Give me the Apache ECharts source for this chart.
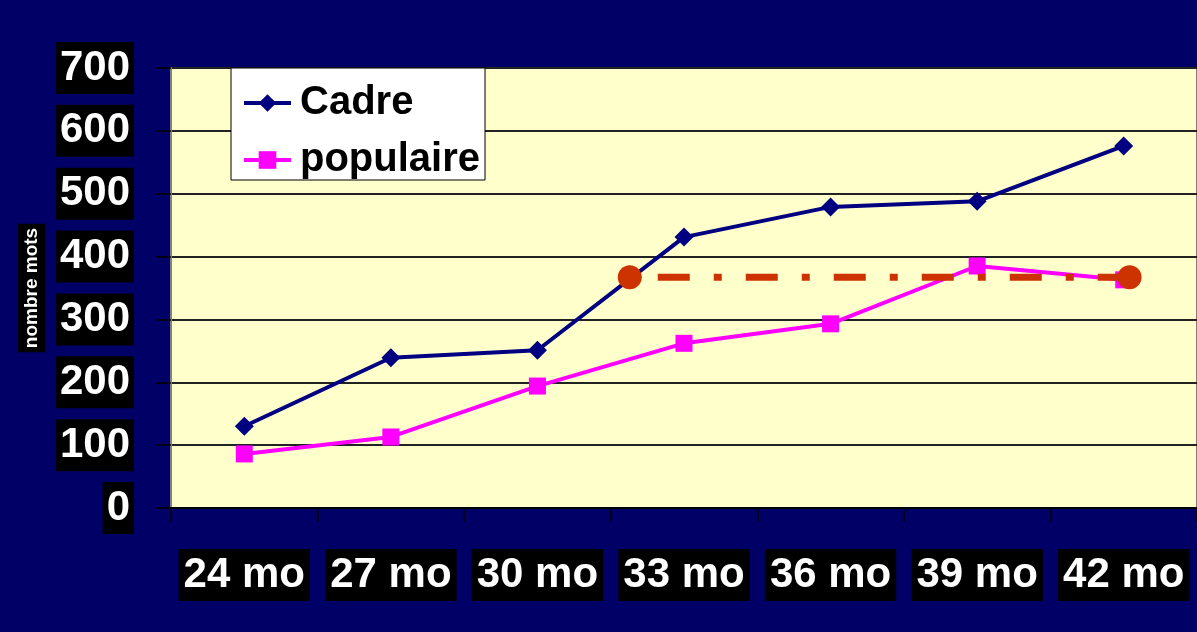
<!DOCTYPE html>
<html>
<head>
<meta charset="utf-8">
<script src="https://cdn.jsdelivr.net/npm/echarts@6/dist/echarts.min.js"></script>
<style>
  html, body { margin: 0; padding: 0; background: #000066; }
  #main { width: 1197px; height: 632px; }
</style>
</head>
<body>
<div id="main"></div>
<script>
// ages (mois)
var categories = ['24 mo', '27 mo', '30 mo', '33 mo', '36 mo', '39 mo', '42 mo'];
// nombre de mots
var cadre = [130, 239, 251, 431, 479, 488, 576];
var populaire = [86, 113, 194, 262, 293, 385, 363];
// ligne de repère (indice de catégorie, valeur)
var repereX = [2.63, 6.04];
var repereY = [367, 367];

var font = "'Liberation Sans', Arial, sans-serif";
var chart = echarts.init(document.getElementById('main'));

var repere = repereX.map(function (x, i) { return [x, repereY[i]]; });

chart.setOption({
  backgroundColor: '#000066',
  animation: false,
  grid: {
    left: 171, top: 68, width: 1029, height: 440,
    show: true, backgroundColor: '#FFFFCC',
    borderColor: '#808080', borderWidth: 2
  },
  legend: {
    data: ['Cadre', 'populaire'],
    orient: 'vertical',
    left: 231, top: 68,
    backgroundColor: '#FFFFFF',
    borderColor: '#000', borderWidth: 1, borderRadius: 0,
    padding: [15, 5, 0, 11],
    itemWidth: 47, itemHeight: 22, itemGap: 17,
    lineStyle: { width: 4 },
    textStyle: { fontFamily: font, fontWeight: 'bold', fontSize: 40, color: '#000', lineHeight: 40, padding: [0, 0, 0, 4] }
  },
  xAxis: [{
    type: 'category',
    data: categories,
    boundaryGap: true,
    axisLine: { lineStyle: { color: '#000', width: 2 } },
    axisTick: { show: true, interval: 0, length: 14, lineStyle: { color: '#000', width: 1.5 } },
    axisLabel: {
      interval: 0, margin: 41, color: '#fff', fontFamily: font, fontWeight: 'bold', fontSize: 42,
      lineHeight: 46, backgroundColor: '#000', padding: [3, 5, 3, 5]
    },
    splitLine: { show: false }
  }, {
    type: 'value', min: -0.5, max: 6.5, show: false
  }],
  yAxis: {
    type: 'value', min: 0, max: 700, interval: 100,
    name: 'nombre mots', nameLocation: 'middle', nameRotate: 90, nameGap: 126,
    nameTextStyle: {
      color: '#fff', fontFamily: font, fontWeight: 'bold', fontSize: 19,
      backgroundColor: '#000', padding: [4, 4, 4, 4]
    },
    axisLine: { show: true, onZero: false, lineStyle: { color: '#808080', width: 2 } },
    axisTick: { show: true, length: 15, lineStyle: { color: '#000', width: 1.5 } },
    axisLabel: {
      margin: 37, color: '#fff', fontFamily: font, fontWeight: 'bold', fontSize: 42,
      lineHeight: 46, backgroundColor: '#000', padding: [3, 4, 3, 4]
    },
    splitLine: { lineStyle: { color: '#222', width: 2 } }
  },
  series: [{
    name: 'Cadre', type: 'line', data: cadre,
    symbol: 'diamond', symbolSize: 19,
    itemStyle: { color: '#000080' },
    lineStyle: { color: '#000080', width: 4 }
  }, {
    name: 'populaire', type: 'line', data: populaire,
    symbol: 'rect', symbolSize: 17,
    itemStyle: { color: '#FF00FF' },
    lineStyle: { color: '#FF00FF', width: 4 }
  }, {
    name: 'repere', type: 'line', xAxisIndex: 1, data: repere,
    symbol: 'circle', symbolSize: 24,
    itemStyle: { color: '#CC3300' },
    lineStyle: { color: '#CC3300', width: 7, type: [32, 24, 8, 24], dashOffset: 60, cap: 'butt' },
    z: 5
  }]
});
</script>
</body>
</html>
